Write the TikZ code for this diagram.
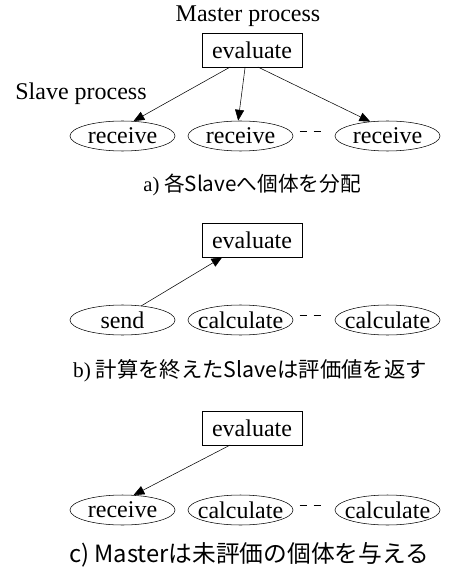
\documentclass[tikz,border=0pt]{standalone}
\usepackage{fontspec}
\setmainfont{Liberation Serif}
\newfontfamily\jpfont{Noto Sans CJK JP}
\usetikzlibrary{arrows.meta,shapes.geometric}

\begin{document}
\begin{tikzpicture}[x=0.75pt,y=-0.75pt]
\tikzset{ >={Triangle[length=8.5pt,width=7pt]}, inner sep=0pt, outer sep=0pt, line width=0.6pt,
  txt/.style={font=\fontsize{18}{20}\selectfont},
  proc/.style={draw, ellipse, txt, inner xsep=-4.8pt, minimum width=78.75pt, minimum height=22.5pt},
  master/.style={draw, rectangle, txt, minimum width=75pt, minimum height=25.5pt},
  subcap/.style={font=\jpfont\fontsize{16}{18}\selectfont},
  gapline/.style={dash pattern=on 5.25pt off 5.25pt, shorten <=6.75pt, shorten >=9pt} }

%\draw [lightgray, dashed](0,0) grid [step=20] (460,573);
\useasboundingbox (0,0) rectangle (460,573);

% a)
\node [txt] (MP) at (248,16) {Master process};
\node [master] (EA) at (252,50) {evaluate};
\node [txt] (SP) at (81,94) {Slave process};

\node [proc] (RA1) at (122.5,136) {receive};
\node [proc] (RA2) at (240.5,136) {receive};
\node [proc] (RA3) at (387.5,136) {receive};

\draw [->] (EA.-142) -- (RA1.54);
\draw [->] (EA.-112) -- (RA2.99);
\draw [->] (EA.-71)  -- (RA3.140);
\draw [gapline] (RA2.5) -- (RA3.175);

\node [subcap, font=\jpfont\fontsize{15.5}{18}\selectfont] (CA) at (252,185) {{\rmfamily a)} 各Slaveへ個体を分配};

% b)
\node [master] (EB) at (252,240) {evaluate};

\node [proc] (SB1) at (122.5,320) {send};
\node [proc] (CB2) at (240.5,320) {calculate};
\node [proc] (CB3) at (387.5,320) {calculate};

\draw [->] (SB1.37) -- (EB.-150);
\draw [gapline] (CB2.5) -- (CB3.175);

\node [subcap] (CB) at (250,371) {{\rmfamily b)} 計算を終えたSlaveは評価値を返す};

% c)
\node [master] (EC) at (252,428) {evaluate};

\node [proc] (RC1) at (122.5,510) {receive};
\node [proc] (CC2) at (240.5,510) {calculate};
\node [proc] (CC3) at (387.5,510) {calculate};

\draw [->] (EC.-142) -- (RC1.54);
\draw [gapline] (CC2.5) -- (CC3.175);

\node [subcap, font=\jpfont\fontsize{17.8}{20}\selectfont] (CC) at (249,555) {c) Masterは未評価の個体を与える};
\end{tikzpicture}
\end{document}
